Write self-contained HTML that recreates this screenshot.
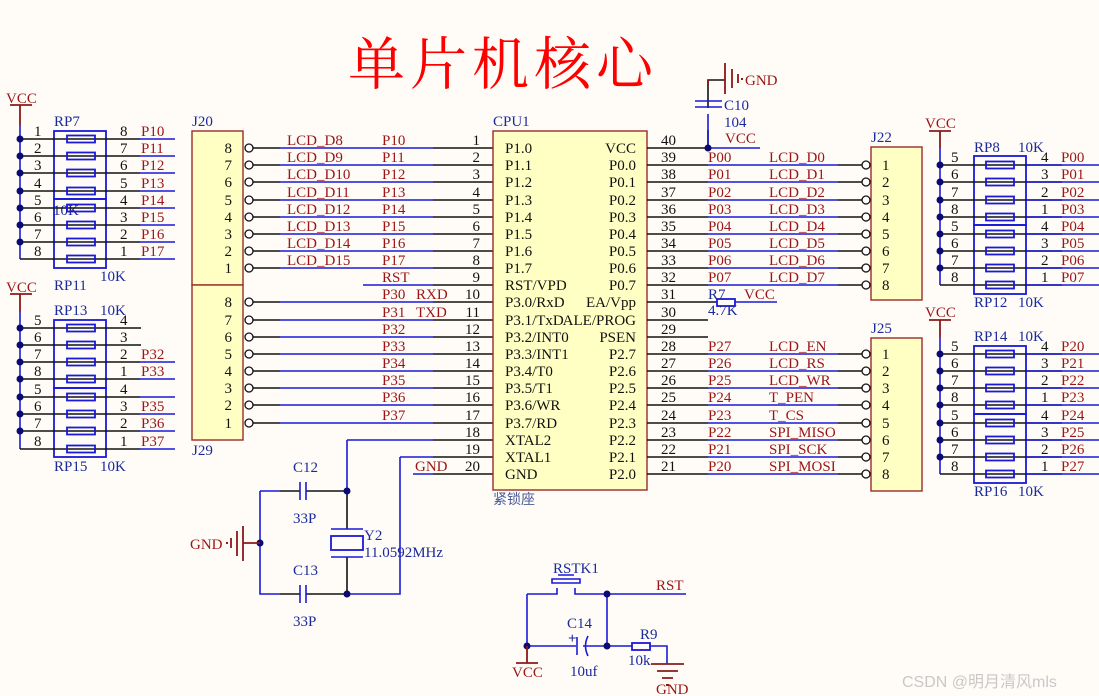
<!DOCTYPE html>
<html><head><meta charset="utf-8"><style>
html,body{margin:0;padding:0;background:#fffcf8;}
svg{display:block;font-family:"Liberation Serif","Noto Serif CJK SC",serif;font-size:15px;}
.k{stroke:#111;stroke-width:1.6;fill:none}
.b{stroke:#1a1ad8;stroke-width:1.6;fill:none}
.rd{stroke:#8b1a1a;stroke-width:1.8;fill:none}
.r{fill:#9a1515}
.t{fill:#111}
.bt{fill:#1a2a9a}
.res{fill:none;stroke:#1a1ad8;stroke-width:1.8}
.box{fill:#ffffc4;stroke:#9b2a2a;stroke-width:1.4}
.d{fill:#0a0a70}
.c{fill:#fff;stroke:#111;stroke-width:1.3}
</style></head><body>
<svg width="1099" height="696" viewBox="0 0 1099 696" xmlns="http://www.w3.org/2000/svg">
<text x="348" y="84" font-size="57" fill="#ff0000" letter-spacing="5" font-family="'Noto Serif CJK SC',serif">单片机核心</text>

<!-- ===== LEFT RP7/RP11 ===== -->
<text x="6" y="103" class="r">VCC</text>
<path class="rd" d="M10 105H32M20 105V125"/>
<path class="b" d="M20 125V259"/>
<rect x="54" y="131" width="52" height="68" class="res"/><rect x="54" y="199" width="52" height="69" class="res"/>
<text x="54" y="126" class="bt">RP7</text><text x="53" y="215" class="bt">10K</text><text x="100" y="281" class="bt">10K</text><text x="54" y="290" class="bt">RP11</text>
<g>
<path class="k" d="M20 139H140M20 156H140M20 173H140M20 191H140M20 208H140M20 225H140M20 242H140M20 259H140"/>
<path class="b" d="M140 139H175M140 156H175M140 173H175M140 191H175M140 208H175M140 225H175M140 242H175M140 259H175"/>
<rect x="67" y="135.5" width="28" height="7" class="res" fill="#fffcf8"/><rect x="67" y="152.5" width="28" height="7" class="res"/><rect x="67" y="169.5" width="28" height="7" class="res"/><rect x="67" y="187.5" width="28" height="7" class="res"/><rect x="67" y="204.5" width="28" height="7" class="res"/><rect x="67" y="221.5" width="28" height="7" class="res"/><rect x="67" y="238.5" width="28" height="7" class="res"/><rect x="67" y="255.5" width="28" height="7" class="res"/>
<circle cx="20" cy="139" r="3.5" class="d"/><circle cx="20" cy="156" r="3.5" class="d"/><circle cx="20" cy="173" r="3.5" class="d"/><circle cx="20" cy="191" r="3.5" class="d"/><circle cx="20" cy="208" r="3.5" class="d"/><circle cx="20" cy="225" r="3.5" class="d"/><circle cx="20" cy="242" r="3.5" class="d"/>
<text class="t" x="34" y="136">1</text><text class="t" x="34" y="153">2</text><text class="t" x="34" y="170">3</text><text class="t" x="34" y="188">4</text><text class="t" x="34" y="205">5</text><text class="t" x="34" y="222">6</text><text class="t" x="34" y="239">7</text><text class="t" x="34" y="256">8</text>
<text class="t" x="120" y="136">8</text><text class="t" x="120" y="153">7</text><text class="t" x="120" y="170">6</text><text class="t" x="120" y="188">5</text><text class="t" x="120" y="205">4</text><text class="t" x="120" y="222">3</text><text class="t" x="120" y="239">2</text><text class="t" x="120" y="256">1</text>
<text class="r" x="141" y="136">P10</text><text class="r" x="141" y="153">P11</text><text class="r" x="141" y="170">P12</text><text class="r" x="141" y="188">P13</text><text class="r" x="141" y="205">P14</text><text class="r" x="141" y="222">P15</text><text class="r" x="141" y="239">P16</text><text class="r" x="141" y="256">P17</text>
</g>

<!-- ===== LEFT RP13/RP15 ===== -->
<text x="6" y="292" class="r">VCC</text>
<path class="rd" d="M10 294H32M20 294V312"/>
<path class="b" d="M20 312V449"/>
<rect x="54" y="320" width="52" height="68" class="res"/><rect x="54" y="388" width="52" height="69" class="res"/>
<text x="54" y="315" class="bt">RP13</text><text x="100" y="315" class="bt">10K</text><text x="54" y="471" class="bt">RP15</text><text x="100" y="471" class="bt">10K</text>
<path class="k" d="M20 328H141M20 345H141M20 362H140M20 379H140M20 397H140M20 414H140M20 431H140M20 449H140"/>
<path class="b" d="M140 362H175M140 379H175M140 397H175M140 414H175M140 431H175M140 449H175"/>
<rect x="67" y="324.5" width="28" height="7" class="res"/><rect x="67" y="341.5" width="28" height="7" class="res"/><rect x="67" y="358.5" width="28" height="7" class="res"/><rect x="67" y="375.5" width="28" height="7" class="res"/><rect x="67" y="393.5" width="28" height="7" class="res"/><rect x="67" y="410.5" width="28" height="7" class="res"/><rect x="67" y="427.5" width="28" height="7" class="res"/><rect x="67" y="445.5" width="28" height="7" class="res"/>
<circle cx="20" cy="328" r="3.5" class="d"/><circle cx="20" cy="345" r="3.5" class="d"/><circle cx="20" cy="362" r="3.5" class="d"/><circle cx="20" cy="379" r="3.5" class="d"/><circle cx="20" cy="397" r="3.5" class="d"/><circle cx="20" cy="414" r="3.5" class="d"/><circle cx="20" cy="431" r="3.5" class="d"/>
<text class="t" x="34" y="325">5</text><text class="t" x="34" y="342">6</text><text class="t" x="34" y="359">7</text><text class="t" x="34" y="376">8</text><text class="t" x="34" y="394">5</text><text class="t" x="34" y="411">6</text><text class="t" x="34" y="428">7</text><text class="t" x="34" y="446">8</text>
<text class="t" x="120" y="325">4</text><text class="t" x="120" y="342">3</text><text class="t" x="120" y="359">2</text><text class="t" x="120" y="376">1</text><text class="t" x="120" y="394">4</text><text class="t" x="120" y="411">3</text><text class="t" x="120" y="428">2</text><text class="t" x="120" y="446">1</text>
<text class="r" x="141" y="359">P32</text><text class="r" x="141" y="376">P33</text><text class="r" x="141" y="411">P35</text><text class="r" x="141" y="428">P36</text><text class="r" x="141" y="446">P37</text>

<!-- ===== J20 / J29 ===== -->
<rect x="192" y="131" width="51" height="154" class="box"/><rect x="192" y="285" width="51" height="155" class="box"/>
<text x="192" y="126" class="bt">J20</text><text x="192" y="455" class="bt">J29</text>
<g class="t" text-anchor="end">
<text x="232" y="153">8</text><text x="232" y="170">7</text><text x="232" y="187">6</text><text x="232" y="205">5</text><text x="232" y="222">4</text><text x="232" y="239">3</text><text x="232" y="256">2</text><text x="232" y="273">1</text>
<text x="232" y="307">8</text><text x="232" y="325">7</text><text x="232" y="342">6</text><text x="232" y="359">5</text><text x="232" y="376">4</text><text x="232" y="393">3</text><text x="232" y="410">2</text><text x="232" y="428">1</text>
</g>
<!-- left CPU wires -->
<path class="k" d="M253 148H280M253 165H280M253 182H280M253 200H280M253 217H280M253 234H280M253 251H280M253 268H280M253 302H280M253 320H280M253 337H280M253 354H280M253 371H280M253 388H280M253 405H280M253 423H280"/>
<path class="b" d="M280 148H433M280 165H433M280 182H433M280 200H433M280 217H433M280 234H433M280 251H433M280 268H433M363 285H433M280 302H433M280 320H433M280 337H433M280 354H433M280 371H433M280 388H433M280 405H433M280 423H433M347 440H433M400 457H433M413 474H433"/>
<path class="k" d="M433 148H493M433 165H493M433 182H493M433 200H493M433 217H493M433 234H493M433 251H493M433 268H493M433 285H493M433 302H493M433 320H493M433 337H493M433 354H493M433 371H493M433 388H493M433 405H493M433 423H493M433 440H493M433 457H493M433 474H493"/>
<g>
<circle cx="249" cy="148" r="4" class="c"/><circle cx="249" cy="165" r="4" class="c"/><circle cx="249" cy="182" r="4" class="c"/><circle cx="249" cy="200" r="4" class="c"/><circle cx="249" cy="217" r="4" class="c"/><circle cx="249" cy="234" r="4" class="c"/><circle cx="249" cy="251" r="4" class="c"/><circle cx="249" cy="268" r="4" class="c"/>
<circle cx="249" cy="302" r="4" class="c"/><circle cx="249" cy="320" r="4" class="c"/><circle cx="249" cy="337" r="4" class="c"/><circle cx="249" cy="354" r="4" class="c"/><circle cx="249" cy="371" r="4" class="c"/><circle cx="249" cy="388" r="4" class="c"/><circle cx="249" cy="405" r="4" class="c"/><circle cx="249" cy="423" r="4" class="c"/>
</g>
<g class="r">
<text x="287" y="145">LCD_D8</text><text x="287" y="162">LCD_D9</text><text x="287" y="179">LCD_D10</text><text x="287" y="197">LCD_D11</text><text x="287" y="214">LCD_D12</text><text x="287" y="231">LCD_D13</text><text x="287" y="248">LCD_D14</text><text x="287" y="265">LCD_D15</text>
<text x="382" y="145">P10</text><text x="382" y="162">P11</text><text x="382" y="179">P12</text><text x="382" y="197">P13</text><text x="382" y="214">P14</text><text x="382" y="231">P15</text><text x="382" y="248">P16</text><text x="382" y="265">P17</text>
<text x="382" y="282">RST</text><text x="382" y="299">P30</text><text x="416" y="299">RXD</text><text x="382" y="317">P31</text><text x="416" y="317">TXD</text>
<text x="382" y="334">P32</text><text x="382" y="351">P33</text><text x="382" y="368">P34</text><text x="382" y="385">P35</text><text x="382" y="402">P36</text><text x="382" y="420">P37</text>
<text x="415" y="471">GND</text>
</g>
<g class="t" text-anchor="end">
<text x="480" y="145">1</text><text x="480" y="162">2</text><text x="480" y="179">3</text><text x="480" y="197">4</text><text x="480" y="214">5</text><text x="480" y="231">6</text><text x="480" y="248">7</text><text x="480" y="265">8</text><text x="480" y="282">9</text><text x="480" y="299">10</text><text x="480" y="317">11</text><text x="480" y="334">12</text><text x="480" y="351">13</text><text x="480" y="368">14</text><text x="480" y="385">15</text><text x="480" y="402">16</text><text x="480" y="420">17</text><text x="480" y="437">18</text><text x="480" y="454">19</text><text x="480" y="471">20</text>
</g>

<!-- ===== CPU ===== -->
<rect x="493" y="131" width="154" height="359" class="box"/>
<text x="493" y="126" class="bt">CPU1</text>
<text x="493" y="504" fill="#4a5a9a" font-family="'Noto Sans CJK SC',sans-serif" font-size="14">紧锁座</text>
<g class="t">
<text x="505" y="153">P1.0</text><text x="505" y="170">P1.1</text><text x="505" y="187">P1.2</text><text x="505" y="205">P1.3</text><text x="505" y="222">P1.4</text><text x="505" y="239">P1.5</text><text x="505" y="256">P1.6</text><text x="505" y="273">P1.7</text><text x="505" y="290">RST/VPD</text><text x="505" y="307">P3.0/RxD</text><text x="505" y="325">P3.1/TxD</text><text x="505" y="342">P3.2/INT0</text><text x="505" y="359">P3.3/INT1</text><text x="505" y="376">P3.4/T0</text><text x="505" y="393">P3.5/T1</text><text x="505" y="410">P3.6/WR</text><text x="505" y="428">P3.7/RD</text><text x="505" y="445">XTAL2</text><text x="505" y="462">XTAL1</text><text x="505" y="479">GND</text>
</g>
<g class="t" text-anchor="end">
<text x="636" y="153">VCC</text><text x="636" y="170">P0.0</text><text x="636" y="187">P0.1</text><text x="636" y="205">P0.2</text><text x="636" y="222">P0.3</text><text x="636" y="239">P0.4</text><text x="636" y="256">P0.5</text><text x="636" y="273">P0.6</text><text x="636" y="290">P0.7</text><text x="636" y="307">EA/Vpp</text><text x="636" y="325">ALE/PROG</text><text x="636" y="342">PSEN</text><text x="636" y="359">P2.7</text><text x="636" y="376">P2.6</text><text x="636" y="393">P2.5</text><text x="636" y="410">P2.4</text><text x="636" y="428">P2.3</text><text x="636" y="445">P2.2</text><text x="636" y="462">P2.1</text><text x="636" y="479">P2.0</text>
</g>
<g class="t">
<text x="661" y="145">40</text><text x="661" y="162">39</text><text x="661" y="179">38</text><text x="661" y="197">37</text><text x="661" y="214">36</text><text x="661" y="231">35</text><text x="661" y="248">34</text><text x="661" y="265">33</text><text x="661" y="282">32</text><text x="661" y="299">31</text><text x="661" y="317">30</text><text x="661" y="334">29</text><text x="661" y="351">28</text><text x="661" y="368">27</text><text x="661" y="385">26</text><text x="661" y="402">25</text><text x="661" y="420">24</text><text x="661" y="437">23</text><text x="661" y="454">22</text><text x="661" y="471">21</text>
</g>
<!-- right CPU wires -->
<path class="k" d="M647 148H708M647 165H708M647 182H708M647 200H708M647 217H708M647 234H708M647 251H708M647 268H708M647 285H708M647 302H708M647 320H708M647 337H708M647 354H708M647 371H708M647 388H708M647 405H708M647 423H708M647 440H708M647 457H708M647 474H708"/>
<path class="b" d="M708 148H760M708 165H838M708 182H838M708 200H838M708 217H838M708 234H838M708 251H838M708 268H838M708 285H838M735 302H777M708 354H838M708 371H838M708 388H838M708 405H838M708 423H838M708 440H838M708 457H838M708 474H838"/>
<path class="k" d="M838 165H862M838 182H862M838 200H862M838 217H862M838 234H862M838 251H862M838 268H862M838 285H862M838 354H862M838 371H862M838 388H862M838 405H862M838 423H862M838 440H862M838 457H862M838 474H862M708 302H717"/>
<rect x="717" y="299" width="18" height="7" class="res"/>
<g class="r">
<text x="708" y="162">P00</text><text x="708" y="179">P01</text><text x="708" y="197">P02</text><text x="708" y="214">P03</text><text x="708" y="231">P04</text><text x="708" y="248">P05</text><text x="708" y="265">P06</text><text x="708" y="282">P07</text>
<text x="769" y="162">LCD_D0</text><text x="769" y="179">LCD_D1</text><text x="769" y="197">LCD_D2</text><text x="769" y="214">LCD_D3</text><text x="769" y="231">LCD_D4</text><text x="769" y="248">LCD_D5</text><text x="769" y="265">LCD_D6</text><text x="769" y="282">LCD_D7</text>
<text x="708" y="351">P27</text><text x="708" y="368">P26</text><text x="708" y="385">P25</text><text x="708" y="402">P24</text><text x="708" y="420">P23</text><text x="708" y="437">P22</text><text x="708" y="454">P21</text><text x="708" y="471">P20</text>
<text x="769" y="351">LCD_EN</text><text x="769" y="368">LCD_RS</text><text x="769" y="385">LCD_WR</text><text x="769" y="402">T_PEN</text><text x="769" y="420">T_CS</text><text x="769" y="437">SPI_MISO</text><text x="769" y="454">SPI_SCK</text><text x="769" y="471">SPI_MOSI</text>
<text x="744" y="299">VCC</text><text x="725" y="143">VCC</text><text x="745" y="85">GND</text>
</g>
<text x="708" y="299" class="bt">R7</text><text x="708" y="315" class="bt">4.7K</text>
<!-- C10 -->
<path class="k" d="M708 148V130M708 108V80H725M708 100V92"/>
<path class="b" d="M708 148V114"/>
<path class="b" d="M695 101H722M695 107H722"/>
<path class="rd" d="M708 80V86"/>
<path class="rd" d="M725 63V94M732 69V88M738 74V83"/>
<rect x="741" y="78" width="2" height="2" fill="#8b1a1a"/>
<text x="724" y="110" class="bt">C10</text><text x="724" y="127" class="bt">104</text>
<circle cx="708" cy="148" r="3.5" class="d"/>

<!-- ===== J22 / J25 ===== -->
<rect x="871" y="147" width="51" height="153" class="box"/><rect x="871" y="338" width="51" height="153" class="box"/>
<text x="871" y="142" class="bt">J22</text><text x="871" y="333" class="bt">J25</text>
<g class="t">
<text x="882" y="170">1</text><text x="882" y="187">2</text><text x="882" y="205">3</text><text x="882" y="222">4</text><text x="882" y="239">5</text><text x="882" y="256">6</text><text x="882" y="273">7</text><text x="882" y="290">8</text>
<text x="882" y="359">1</text><text x="882" y="376">2</text><text x="882" y="393">3</text><text x="882" y="410">4</text><text x="882" y="428">5</text><text x="882" y="445">6</text><text x="882" y="462">7</text><text x="882" y="479">8</text>
</g>
<g>
<circle cx="866" cy="165" r="4" class="c"/><circle cx="866" cy="182" r="4" class="c"/><circle cx="866" cy="200" r="4" class="c"/><circle cx="866" cy="217" r="4" class="c"/><circle cx="866" cy="234" r="4" class="c"/><circle cx="866" cy="251" r="4" class="c"/><circle cx="866" cy="268" r="4" class="c"/><circle cx="866" cy="285" r="4" class="c"/>
<circle cx="866" cy="354" r="4" class="c"/><circle cx="866" cy="371" r="4" class="c"/><circle cx="866" cy="388" r="4" class="c"/><circle cx="866" cy="405" r="4" class="c"/><circle cx="866" cy="423" r="4" class="c"/><circle cx="866" cy="440" r="4" class="c"/><circle cx="866" cy="457" r="4" class="c"/><circle cx="866" cy="474" r="4" class="c"/>
</g>

<!-- ===== RIGHT RP8/RP12 ===== -->
<text x="925" y="128" class="r">VCC</text>
<path class="rd" d="M929 131H951M940 131V148"/>
<path class="b" d="M940 148V285"/>
<rect x="974" y="156" width="52" height="69" class="res"/><rect x="974" y="225" width="52" height="69" class="res"/>
<text x="974" y="152" class="bt">RP8</text><text x="1018" y="152" class="bt">10K</text><text x="974" y="307" class="bt">RP12</text><text x="1018" y="307" class="bt">10K</text>
<path class="k" d="M940 165H1062M940 182H1062M940 200H1062M940 217H1062M940 234H1062M940 251H1062M940 268H1062M940 285H1062"/>
<path class="b" d="M1026 165H1099M1026 182H1099M1026 200H1099M1026 217H1099M1026 234H1099M1026 251H1099M1026 268H1099M1026 285H1099"/>
<rect x="986" y="161.5" width="28" height="7" class="res"/><rect x="986" y="178.5" width="28" height="7" class="res"/><rect x="986" y="196.5" width="28" height="7" class="res"/><rect x="986" y="213.5" width="28" height="7" class="res"/><rect x="986" y="230.5" width="28" height="7" class="res"/><rect x="986" y="247.5" width="28" height="7" class="res"/><rect x="986" y="264.5" width="28" height="7" class="res"/><rect x="986" y="281.5" width="28" height="7" class="res"/>
<circle cx="940" cy="165" r="3.5" class="d"/><circle cx="940" cy="182" r="3.5" class="d"/><circle cx="940" cy="200" r="3.5" class="d"/><circle cx="940" cy="217" r="3.5" class="d"/><circle cx="940" cy="234" r="3.5" class="d"/><circle cx="940" cy="251" r="3.5" class="d"/><circle cx="940" cy="268" r="3.5" class="d"/>
<g class="t">
<text x="951" y="162">5</text><text x="951" y="179">6</text><text x="951" y="197">7</text><text x="951" y="214">8</text><text x="951" y="231">5</text><text x="951" y="248">6</text><text x="951" y="265">7</text><text x="951" y="282">8</text>
<text x="1041" y="162">4</text><text x="1041" y="179">3</text><text x="1041" y="197">2</text><text x="1041" y="214">1</text><text x="1041" y="231">4</text><text x="1041" y="248">3</text><text x="1041" y="265">2</text><text x="1041" y="282">1</text>
</g>
<g class="r">
<text x="1061" y="162">P00</text><text x="1061" y="179">P01</text><text x="1061" y="197">P02</text><text x="1061" y="214">P03</text><text x="1061" y="231">P04</text><text x="1061" y="248">P05</text><text x="1061" y="265">P06</text><text x="1061" y="282">P07</text>
</g>

<!-- ===== RIGHT RP14/RP16 ===== -->
<text x="925" y="317" class="r">VCC</text>
<path class="rd" d="M929 320H951M940 320V337"/>
<path class="b" d="M940 337V474"/>
<rect x="974" y="346" width="52" height="68" class="res"/><rect x="974" y="414" width="52" height="69" class="res"/>
<text x="974" y="341" class="bt">RP14</text><text x="1018" y="341" class="bt">10K</text><text x="974" y="496" class="bt">RP16</text><text x="1018" y="496" class="bt">10K</text>
<path class="k" d="M940 354H1062M940 371H1062M940 388H1062M940 405H1062M940 423H1062M940 440H1062M940 457H1062M940 474H1062"/>
<path class="b" d="M1026 354H1099M1026 371H1099M1026 388H1099M1026 405H1099M1026 423H1099M1026 440H1099M1026 457H1099M1026 474H1099"/>
<rect x="986" y="350.5" width="28" height="7" class="res"/><rect x="986" y="367.5" width="28" height="7" class="res"/><rect x="986" y="384.5" width="28" height="7" class="res"/><rect x="986" y="401.5" width="28" height="7" class="res"/><rect x="986" y="419.5" width="28" height="7" class="res"/><rect x="986" y="436.5" width="28" height="7" class="res"/><rect x="986" y="453.5" width="28" height="7" class="res"/><rect x="986" y="470.5" width="28" height="7" class="res"/>
<circle cx="940" cy="354" r="3.5" class="d"/><circle cx="940" cy="371" r="3.5" class="d"/><circle cx="940" cy="388" r="3.5" class="d"/><circle cx="940" cy="405" r="3.5" class="d"/><circle cx="940" cy="423" r="3.5" class="d"/><circle cx="940" cy="440" r="3.5" class="d"/><circle cx="940" cy="457" r="3.5" class="d"/>
<g class="t">
<text x="951" y="351">5</text><text x="951" y="368">6</text><text x="951" y="385">7</text><text x="951" y="402">8</text><text x="951" y="420">5</text><text x="951" y="437">6</text><text x="951" y="454">7</text><text x="951" y="471">8</text>
<text x="1041" y="351">4</text><text x="1041" y="368">3</text><text x="1041" y="385">2</text><text x="1041" y="402">1</text><text x="1041" y="420">4</text><text x="1041" y="437">3</text><text x="1041" y="454">2</text><text x="1041" y="471">1</text>
</g>
<g class="r">
<text x="1061" y="351">P20</text><text x="1061" y="368">P21</text><text x="1061" y="385">P22</text><text x="1061" y="402">P23</text><text x="1061" y="420">P24</text><text x="1061" y="437">P25</text><text x="1061" y="454">P26</text><text x="1061" y="471">P27</text>
</g>

<!-- ===== CRYSTAL ===== -->
<path class="b" d="M347 440V491M400 457V594H347M260 491H280M260 491V594H280"/>
<path class="k" d="M280 491H300M306 491H347M280 594H300M306 594H347M347 491V529M347 557V594"/>
<path class="b" d="M300 482V500M306 482V500M300 585V603M306 585V603M331 529H363M331 557H363"/>
<rect x="331" y="536" width="32" height="14" class="res"/>
<circle cx="347" cy="491" r="3.5" class="d"/><circle cx="347" cy="594" r="3.5" class="d"/><circle cx="260" cy="543" r="3.5" class="d"/>
<path class="rd" d="M243 543H260M243 526V561M237 531V556M231 538V548"/>
<rect x="226" y="542" width="2" height="2" fill="#8b1a1a"/>
<text x="190" y="549" class="r">GND</text>
<g class="bt"><text x="293" y="472">C12</text><text x="293" y="523">33P</text><text x="293" y="575">C13</text><text x="293" y="626">33P</text><text x="364" y="540">Y2</text><text x="364" y="557">11.0592MHz</text></g>

<!-- ===== RESET ===== -->
<path class="b" d="M527 594H557V588M575 588V594H686M527 594V646H576M583 646H607V594M607 646H632M650 646H667V664"/>
<path class="b" d="M552 579H580V583H552Z M558 575H574"/>
<path class="b" d="M577 637V655"/>
<path class="b" d="M588 636Q583 646 588 656"/>
<rect x="632" y="643" width="18" height="7" class="res"/>
<circle cx="527" cy="646" r="3.5" class="d"/><circle cx="607" cy="594" r="3.5" class="d"/><circle cx="607" cy="646" r="3.5" class="d"/>
<path class="rd" d="M527 646V663M516 663H538M651 664H684M657 671H678M662 678H673"/>
<rect x="666" y="684" width="3" height="2" fill="#8b1a1a"/>
<text x="553" y="573" class="bt">RSTK1</text><text x="656" y="590" class="r">RST</text>
<text x="567" y="628" class="bt">C14</text><text x="568" y="643" class="bt" font-weight="bold">+</text><text x="570" y="676" class="bt">10uf</text>
<text x="640" y="639" class="bt">R9</text><text x="628" y="665" class="bt">10k</text>
<text x="512" y="677" class="r">VCC</text><text x="656" y="694" class="r">GND</text>

<text x="902" y="687" fill="#c8c8c8" font-family="'Liberation Sans','Noto Sans CJK SC',sans-serif" font-size="16">CSDN @明月清风mls</text>
</svg>
</body></html>
